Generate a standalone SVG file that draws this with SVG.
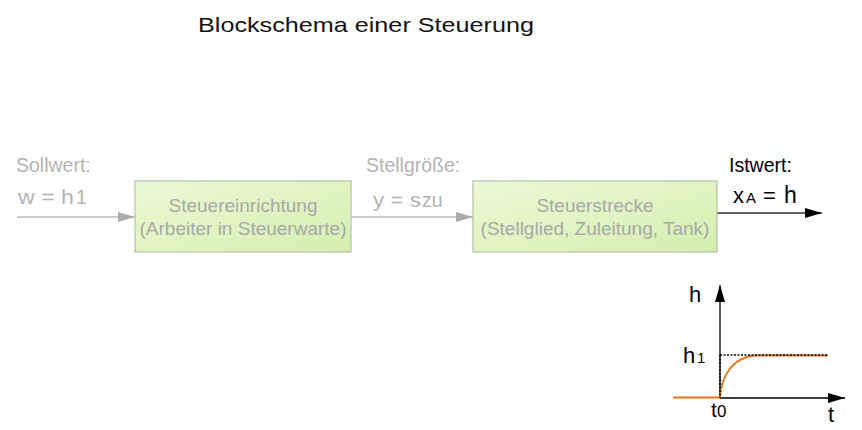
<svg xmlns="http://www.w3.org/2000/svg" width="862" height="430" viewBox="0 0 862 430">
<defs>
<linearGradient id="g" x1="0" y1="0" x2="1" y2="1">
<stop offset="0" stop-color="#ecf9d6"/>
<stop offset="1" stop-color="#d3efae"/>
</linearGradient>
<marker id="ag" viewBox="0 0 17 10" refX="17" refY="5" markerWidth="17" markerHeight="10" markerUnits="userSpaceOnUse" orient="auto">
<path d="M0,0 L17,5 L0,10 Z" fill="#aaaaaa"/>
</marker>
<marker id="ak" viewBox="0 0 17 10" refX="17" refY="5" markerWidth="17" markerHeight="10" markerUnits="userSpaceOnUse" orient="auto">
<path d="M0,0 L17,5 L0,10 Z" fill="#000"/>
</marker>
<marker id="ax" viewBox="0 0 17 10" refX="17" refY="5" markerWidth="17" markerHeight="10" markerUnits="userSpaceOnUse" orient="auto">
<path d="M0,0 L17,5 L0,10 Z" fill="#000"/>
</marker>
</defs>
<style>
text{font-family:"Liberation Sans",Arial,sans-serif}
.lbl{fill:#b3b3b3;font-size:19.5px}
.box rect{fill:url(#g);stroke:#b6bfa8;stroke-width:1.2}
.box text{fill:#a8a8a8;font-size:19px;text-anchor:middle}
.blk{fill:#000}
</style>
<text x="198" y="32" font-family="DejaVu Sans, sans-serif" font-size="21" textLength="336" lengthAdjust="spacingAndGlyphs" fill="#111">Blockschema einer Steuerung</text>

<g id="connectors">
<line x1="17" y1="217" x2="135" y2="217" stroke="#bbbbbb" stroke-width="1.6" marker-end="url(#ag)"/>
<line x1="351" y1="217" x2="473" y2="217" stroke="#bbbbbb" stroke-width="1.6" marker-end="url(#ag)"/>
<line x1="717" y1="213" x2="822" y2="213" stroke="#333" stroke-width="1.6" marker-end="url(#ak)"/>
</g>

<g id="box1" class="box">
<rect x="135" y="181" width="216" height="71"/>
<text x="243" y="212">Steuereinrichtung</text>
<text x="243" y="235">(Arbeiter in Steuerwarte)</text>
</g>
<g id="box2" class="box">
<rect x="473" y="181" width="244" height="71"/>
<text x="595" y="212">Steuerstrecke</text>
<text x="595" y="235">(Stellglied, Zuleitung, Tank)</text>
</g>

<g id="labels">
<text class="lbl" x="16" y="172">Sollwert:</text>
<text class="lbl" x="18" y="204" font-size="22" textLength="56" lengthAdjust="spacingAndGlyphs">w = h</text>
<text class="lbl" x="76" y="204" font-size="15">1</text>
<text class="lbl" x="366" y="172">Stellgröße:</text>
<text class="lbl" x="373" y="207" font-size="22" textLength="48" lengthAdjust="spacingAndGlyphs">y = s</text>
<text class="lbl" x="422" y="207" font-size="14">zu</text>
<text class="blk" x="729" y="172" font-size="19.5">Istwert:</text>
<text class="blk" x="733" y="203" font-size="22">x</text>
<text class="blk" x="746" y="203" font-size="15">A</text>
<text class="blk" x="763" y="203" font-size="22">=</text>
<text class="blk" x="784" y="203" font-size="23">h</text>
</g>

<g id="graph">
<line x1="720" y1="398" x2="720" y2="285" stroke="#000" stroke-width="1.3" marker-end="url(#ax)"/>
<line x1="720" y1="398" x2="845" y2="398" stroke="#000" stroke-width="1.3" marker-end="url(#ax)"/>
<path d="M673,397.5 L720,397.5 C721,380 730,357 756,355.5 L828,355.5" fill="none" stroke="#e8731c" stroke-width="1.8"/>
<path d="M720,355 L828,355 M720,355 L720,398" fill="none" stroke="#000" stroke-width="1.6" stroke-dasharray="2,1.5"/>
<text class="blk" x="689" y="302" font-size="22">h</text>
<text class="blk" x="683" y="363" font-size="22">h</text>
<text class="blk" x="697" y="363" font-size="15">1</text>
<text class="blk" x="711" y="417" font-size="21">t</text>
<text class="blk" x="717" y="417" font-size="17">0</text>
<text class="blk" x="828" y="422" font-size="22">t</text>
</g>
</svg>
